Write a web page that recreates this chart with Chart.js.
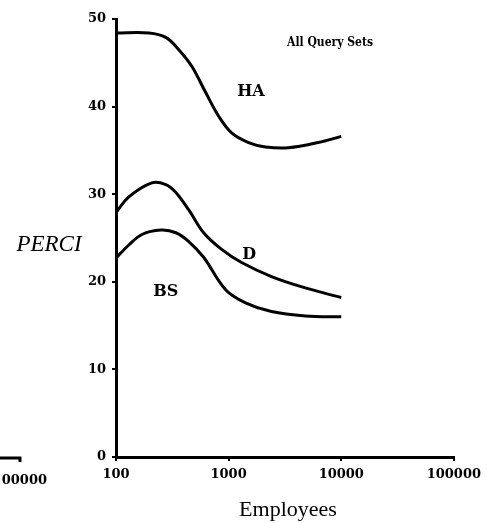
<!DOCTYPE html>
<html>
<head>
<meta charset="utf-8">
<script src="https://cdn.jsdelivr.net/npm/chart.js@4"></script>
<style>
  html, body { margin: 0; padding: 0; background: #fff; }
  #wrap { position: relative; width: 487px; height: 523px; }
</style>
</head>
<body>
<div id="wrap"><canvas id="chart" width="487" height="523"></canvas></div>
<script>
// Employees (log scale) and PERCI values
const xTicks = [100, 1000, 10000, 100000];

const haX = [100, 196, 277, 361, 471, 626, 816, 1063, 1503, 2125, 3396, 6252, 10000];
const haY = [48.4, 48.4, 47.9, 46.5, 44.6, 41.6, 38.9, 37.0, 35.9, 35.4, 35.3, 35.9, 36.6];

const dX = [100, 130, 208, 277, 340, 443, 600, 867, 1303, 2402, 4800, 10000];
const dY = [27.9, 29.7, 31.3, 31.1, 30.2, 28.2, 25.6, 23.7, 22.2, 20.6, 19.3, 18.2];

const bsX = [100, 130, 170, 250, 340, 443, 600, 940, 1413, 2402, 4800, 10000];
const bsY = [22.7, 24.2, 25.4, 25.9, 25.6, 24.6, 22.8, 19.1, 17.6, 16.6, 16.1, 16.0];

// curve labels, placed in data units
const curveLabels = [
  { text: 'HA', x: 1580, y: 41.7 },
  { text: 'D', x: 1520, y: 23.1 },
  { text: 'BS', x: 277, y: 18.9 }
];

function pts(xs, ys) {
  return xs.map((x, i) => ({ x, y: ys[i] }));
}

function line(label, xs, ys) {
  return {
    label,
    data: pts(xs, ys),
    borderColor: '#000',
    borderWidth: 3,
    pointRadius: 0,
    fill: false,
    tension: 0.35
  };
}

// textes autour du graphe
const extras = {
  id: 'extras',
  afterDraw(chart) {
    const ctx = chart.ctx;
    const xs = chart.scales.x, ys = chart.scales.y;
    ctx.save();
    ctx.fillStyle = '#000';
    ctx.textBaseline = 'middle';
    ctx.textAlign = 'center';

    ctx.font = 'bold 16px "DejaVu Serif"';
    curveLabels.forEach(l => {
      ctx.fillText(l.text, xs.getPixelForValue(l.x), ys.getPixelForValue(l.y));
    });

    ctx.font = 'bold 12px "DejaVu Serif Condensed", "DejaVu Serif"';
    ctx.fillText('All Query Sets', 330, 43);

    ctx.font = 'italic 23px "Liberation Serif"';
    ctx.fillText('PERCI', 49, 245);

    ctx.font = '22px "Liberation Serif"';
    ctx.fillText('Employees', 288, 510);

    // bout du graphe voisin à gauche
    ctx.font = 'bold 13px "DejaVu Serif"';
    ctx.textAlign = 'right';
    ctx.fillText('00000', 47, 481);
    ctx.strokeStyle = '#000';
    ctx.lineWidth = 3;
    ctx.beginPath();
    ctx.moveTo(0, 458);
    ctx.lineTo(20, 458);
    ctx.lineTo(20, 462);
    ctx.stroke();
    ctx.restore();
  }
};

new Chart(document.getElementById('chart'), {
  type: 'line',
  data: {
    datasets: [
      line('HA', haX, haY),
      line('D', dX, dY),
      line('BS', bsX, bsY)
    ]
  },
  options: {
    responsive: false,
    animation: false,
    layout: { padding: { left: 0, top: 19, right: 30, bottom: 6 } },
    plugins: { legend: { display: false }, tooltip: { enabled: false } },
    scales: {
      x: {
        type: 'logarithmic',
        min: 100,
        max: 100000,
        afterBuildTicks: s => { s.ticks = xTicks.map(v => ({ value: v })); },
        afterFit: s => { s.height = 60; },
        border: { display: true, color: '#000', width: 3 },
        grid: { drawOnChartArea: false, drawTicks: true, tickLength: 4, color: '#000', lineWidth: 2 },
        ticks: {
          color: '#000',
          font: { family: 'DejaVu Serif', weight: 'bold', size: 13 },
          maxRotation: 0,
          autoSkip: false,
          padding: 6,
          callback: v => String(v)
        }
      },
      y: {
        min: 0,
        max: 50,
        afterFit: s => { s.width = 116; },
        border: { display: true, color: '#000', width: 3 },
        grid: { drawOnChartArea: false, drawTicks: true, tickLength: 4, color: '#000', lineWidth: 2 },
        ticks: {
          stepSize: 10,
          color: '#000',
          font: { family: 'DejaVu Serif', weight: 'bold', size: 13 },
          padding: 6
        }
      }
    }
  },
  plugins: [extras]
});
</script>
</body>
</html>
